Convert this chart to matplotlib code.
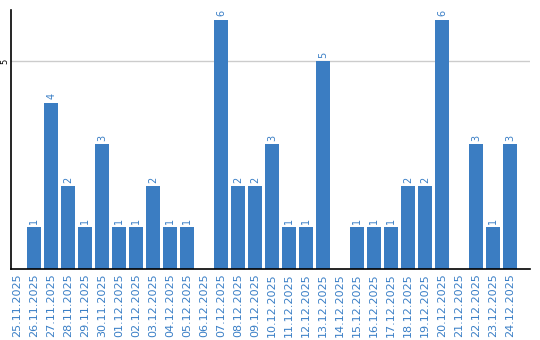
import matplotlib
matplotlib.use('Agg')
import matplotlib.pyplot as plt
import numpy as np

dates = ['25.11.2025', '26.11.2025', '27.11.2025', '28.11.2025', '29.11.2025',
         '30.11.2025', '01.12.2025', '02.12.2025', '03.12.2025', '04.12.2025',
         '05.12.2025', '06.12.2025', '07.12.2025', '08.12.2025', '09.12.2025',
         '10.12.2025', '11.12.2025', '12.12.2025', '13.12.2025', '14.12.2025',
         '15.12.2025', '16.12.2025', '17.12.2025', '18.12.2025', '19.12.2025',
         '20.12.2025', '21.12.2025', '22.12.2025', '23.12.2025', '24.12.2025']
counts = [0, 1, 4, 2, 1, 3, 1, 1, 2, 1,
          1, 0, 6, 2, 2, 3, 1, 1, 5, 0,
          1, 1, 1, 2, 2, 6, 0, 3, 1, 3]

blue = '#3b7dc2'
txt = '#3a7fc6'

fig = plt.figure(figsize=(5.4, 3.4), dpi=100)
ax = fig.add_axes([11/540, 71/340, 519/540, 259/340])

x = np.arange(len(dates))
ax.bar(x, counts, width=0.82, color=blue, zorder=2)
for xi, c in zip(x, counts):
    if c > 0:
        ax.text(xi, c + 0.08, str(c), rotation=90, ha='center', va='bottom',
                fontsize=7, color=txt)

ax.set_xlim(-0.36, len(dates) - 1 + 1.18)
ax.set_ylim(0, 6.23)
ax.set_yticks([5])
ax.set_yticklabels(['5'], rotation=90, va='center', fontsize=6)
ax.axhline(5, color='#cccccc', lw=1, zorder=1)
ax.set_xticks(x)
ax.set_xticklabels(dates, rotation=90, fontsize=8, color=txt)
ax.tick_params(axis='x', length=0, pad=3)
ax.tick_params(axis='y', length=0, pad=1)
for s in ['top', 'right']:
    ax.spines[s].set_visible(False)
ax.spines['left'].set_linewidth(1.2)
ax.spines['bottom'].set_linewidth(1.2)

fig.savefig('out.png', dpi=100)
